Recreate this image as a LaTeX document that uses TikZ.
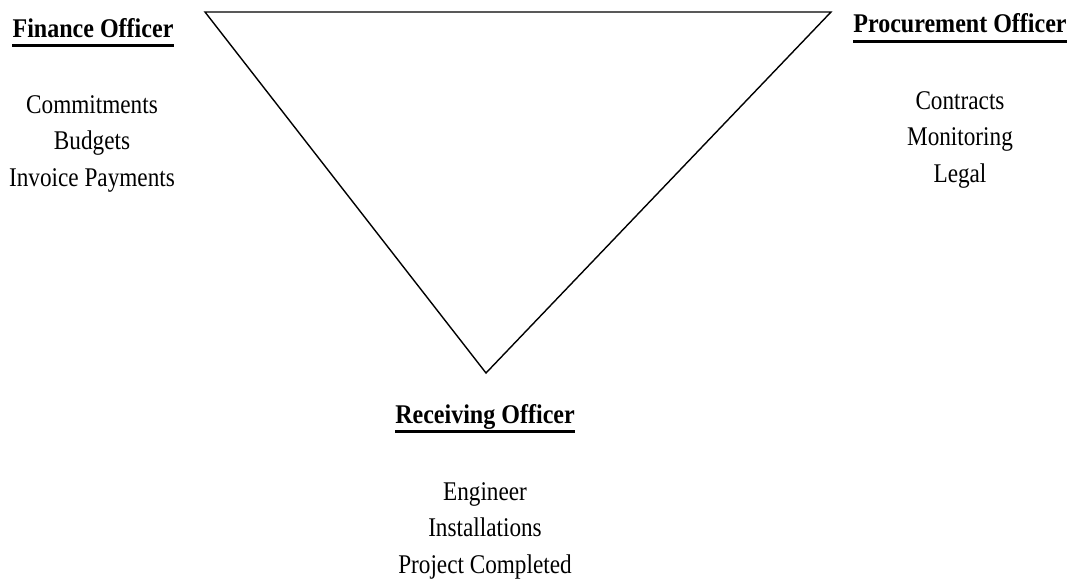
\documentclass[tikz,border=0pt]{standalone}
\usepackage{fontspec}
\setmainfont[FakeStretch=0.86]{Liberation Serif}
\newfontfamily\headfont[FakeStretch=0.89]{Liberation Serif}
\begin{document}
\begin{tikzpicture}[x=1pt,y=-1pt,
  tri/.style={draw=black,line width=1.4pt,line join=miter},
  head/.style={font=\headfont\bfseries\fontsize{27}{36}\selectfont,inner sep=0pt,anchor=base},
  items/.style={font=\fontsize{27}{36.5}\selectfont,inner sep=0pt,anchor=base,align=center},
  uline/.style={line width=3pt}]
\useasboundingbox (0,0) rectangle (1072,582);
\fill[white] (0,0) rectangle (1072,582);
\coordinate (tl) at (205,12);
\coordinate (tr) at (831,12);
\coordinate (bt) at (486,373);
\draw[tri] (tl) -- (tr) -- (bt) -- cycle;
% Finance
\node[head] (fin) at (93,37) {Finance Officer};
\draw[uline] ([yshift=-8.5pt]fin.base west) -- ([yshift=-8.5pt]fin.base east);
\node[items] (fini) at (92,186) {Commitments\\Budgets\\Invoice Payments};
% Procurement
\node[head] (pro) at (960,32) {Procurement Officer};
\draw[uline] ([yshift=-9pt]pro.base west) -- ([yshift=-9pt]pro.base east);
\node[items] (proi) at (960,182) {Contracts\\Monitoring\\Legal};
% Receiving
\node[head] (rec) at (485,423) {Receiving Officer};
\draw[uline] ([yshift=-8.5pt]rec.base west) -- ([yshift=-8.5pt]rec.base east);
\node[items] (reci) at (485,573) {Engineer\\Installations\\Project Completed};
\end{tikzpicture}
\end{document}
